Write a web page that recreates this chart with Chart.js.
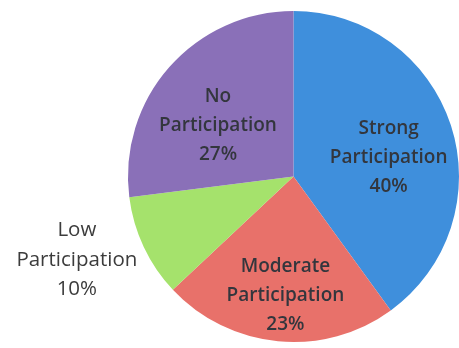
<!DOCTYPE html>
<html>
<head>
<meta charset="utf-8">
<script src="https://cdn.jsdelivr.net/npm/chart.js@4.4.1/dist/chart.umd.min.js"></script>
<style>
  html, body { margin: 0; padding: 0; background: #ffffff; }
  #wrap { width: 459px; height: 348px; position: relative; }
</style>
</head>
<body>
<div id="wrap"><canvas id="chart"></canvas></div>
<script>
// Participation levels, in drawing order (clockwise from 12 o'clock)
const categories = ['Strong Participation', 'Moderate Participation', 'Low Participation', 'No Participation'];
const labelLines = [['Strong', 'Participation'], ['Moderate', 'Participation'], ['Low', 'Participation'], ['No', 'Participation']];
const shares = [40, 23, 10, 27];
const sliceColors = ['#3f8fdc', '#e8716a', '#a5e26c', '#8a70b8'];

// Where each label sits: fraction of the radius along the slice's middle, plus a small nudge in px
const labelPlacement = [
  { r: 0.56, dx: 7,   dy: 10 },
  { r: 0.71, dx: 3,   dy: 2 },
  { r: 1.38, dx: -10, dy: -14 },
  { r: 0.56, dx: -6,  dy: 10 }
];

const sliceLabels = {
  id: 'sliceLabels',
  afterDatasetsDraw(chart) {
    const ctx = chart.ctx;
    const meta = chart.getDatasetMeta(0);
    ctx.save();
    ctx.textAlign = 'center';
    ctx.textBaseline = 'middle';
    meta.data.forEach((arc, i) => {
      const p = arc.getProps(['x', 'y', 'startAngle', 'endAngle', 'outerRadius'], true);
      const mid = (p.startAngle + p.endAngle) / 2;
      const place = labelPlacement[i];
      const outside = place.r > 1;
      const cx = p.x + Math.cos(mid) * p.outerRadius * place.r + place.dx;
      const cy = p.y + Math.sin(mid) * p.outerRadius * place.r + place.dy;
      const lines = labelLines[i].concat([shares[i] + '%']);
      const lineH = outside ? 29.5 : 29;
      ctx.font = outside ? '400 20.5px "Open Sans", sans-serif' : '600 19px "Open Sans", sans-serif';
      ctx.fillStyle = outside ? '#3c3c3c' : '#33363d';
      lines.forEach((t, k) => {
        ctx.fillText(t, cx, cy + (k - (lines.length - 1) / 2) * lineH);
      });
    });
    ctx.restore();
  }
};

new Chart(document.getElementById('chart'), {
  type: 'pie',
  data: {
    labels: categories,
    datasets: [{
      data: shares,
      backgroundColor: sliceColors,
      borderWidth: 0
    }]
  },
  options: {
    responsive: true,
    maintainAspectRatio: false,
    animation: false,
    layout: { padding: { left: 128, right: 0, top: 9, bottom: 4 } },
    plugins: {
      legend: { display: false },
      tooltip: { enabled: false }
    }
  },
  plugins: [sliceLabels]
});
</script>
</body>
</html>
